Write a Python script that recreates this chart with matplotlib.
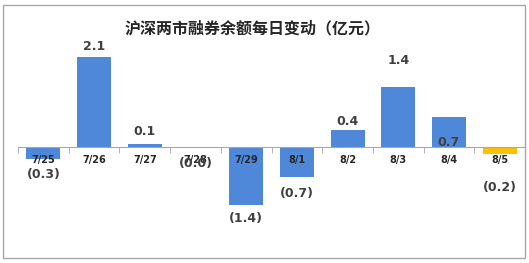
import matplotlib.pyplot as plt
from matplotlib.patches import Rectangle

plt.rcParams['font.family'] = ['Noto Sans CJK SC', 'DejaVu Sans']

dates = ['7/25', '7/26', '7/27', '7/28', '7/29', '8/1', '8/2', '8/3', '8/4', '8/5']
changes = [-0.28, 2.1, 0.07, -0.03, -1.36, -0.7, 0.4, 1.4, 0.7, -0.17]
value_labels = ['(0.3)', '2.1', '0.1', '(0.0)', '(1.4)', '(0.7)', '0.4', '1.4', '0.7', '(0.2)']

# label offsets from bar end, pixels (positive = up)
label_dy = [-16, 10, 12, -15, -13, -17, 8, 26, -26, -33]
colors = ['#4f88d9'] * 9 + ['#ffc000']

fig = plt.figure(figsize=(5.29, 2.63), dpi=100)
fig.patches.append(Rectangle((3 / 529, 5 / 263), 522 / 529, 253 / 263,
                             transform=fig.transFigure, fill=False,
                             edgecolor='#a6a6a6', linewidth=1))

ax = fig.add_axes([18 / 529, 1 - 241 / 263, 507 / 529, 197 / 263])
x = list(range(len(dates)))
ax.bar(x, changes, width=0.67, color=colors, zorder=1)
ax.set_xlim(-0.5, len(dates) - 0.5)
ax.set_ylim(-2.2, 2.4)

for i, (v, lab, dy) in enumerate(zip(changes, value_labels, label_dy)):
    ax.annotate(lab, (i, v), xytext=(0, dy), textcoords='offset pixels',
                ha='center', va='center', fontsize=9, fontweight='bold',
                color='#404040', family='DejaVu Sans', zorder=5)

for s in ['top', 'right', 'left']:
    ax.spines[s].set_visible(False)
ax.spines['bottom'].set_position(('data', 0))
ax.spines['bottom'].set_color('#a6a6a6')
ax.set_yticks([])
ax.set_xticks(x)
ax.set_xticklabels(dates, fontsize=7, fontweight='bold', color='#262626', family='DejaVu Sans')
ax.set_xticks([i - 0.5 for i in range(len(dates) + 1)], minor=True)
ax.tick_params(axis='x', which='major', length=0, pad=6)
ax.tick_params(axis='x', which='minor', length=4, color='#a6a6a6', direction='out')

fig.text(253 / 529, 1 - 28 / 263, '沪深两市融券余额每日变动（亿元）', ha='center', va='center',
         fontsize=11.5, fontweight='bold', color='#262626')

fig.savefig('out.png', dpi=100)
